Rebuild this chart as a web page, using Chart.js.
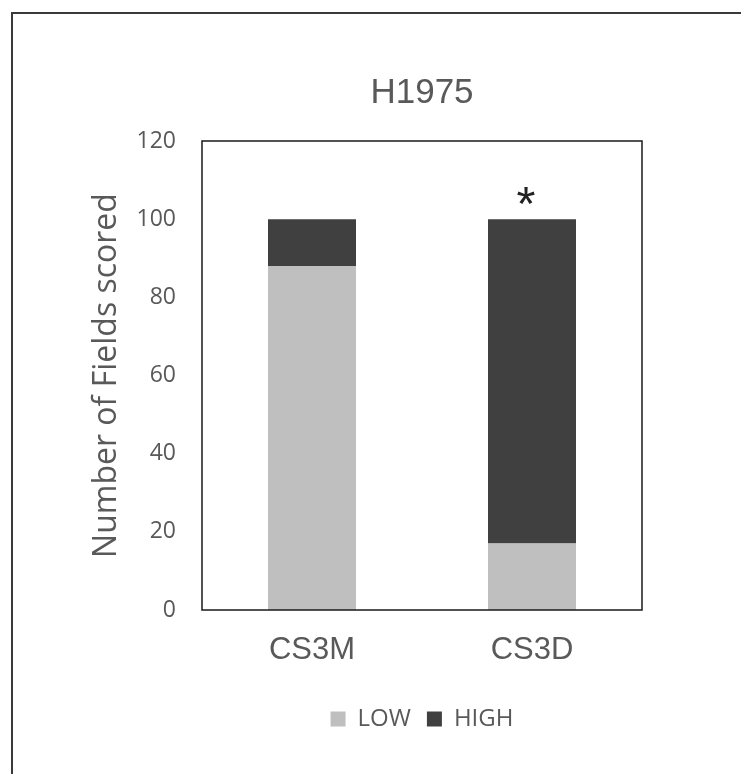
<!DOCTYPE html>
<html>
<head>
<meta charset="utf-8">
<script src="https://cdn.jsdelivr.net/npm/chart.js@4/dist/chart.umd.min.js"></script>
<style>
  html, body { margin: 0; padding: 0; background: #ffffff; }
  #wrap { position: relative; width: 741px; height: 774px; }
  #frame { position: absolute; left: 11px; top: 12px; width: 760px; height: 800px;
           border-top: 2px solid #3a3a3a; border-left: 2px solid #3a3a3a; box-sizing: border-box; pointer-events: none; }
  canvas { position: absolute; left: 0; top: 0; }
</style>
</head>
<body>
<div id="wrap">
  <canvas id="c" width="741" height="774"></canvas>
  <div id="frame"></div>
</div>
<script>
const categories = ['CS3M', 'CS3D'];
const lowValues = [88, 17];
const highValues = [12, 83];
const seriesNames = ['LOW', 'HIGH'];
const significance = ['', '*'];
const yTicks = [0, 20, 40, 60, 80, 100, 120];

const framePlugin = {
  id: 'frame',
  afterDatasetsDraw(chart) {
    const a = chart.chartArea, ctx = chart.ctx;
    ctx.save();
    ctx.strokeStyle = '#1a1a1a';
    ctx.lineWidth = 1.5;
    ctx.strokeRect(a.left, a.top, a.right - a.left, a.bottom - a.top);
    // significance marks
    const xs = chart.scales.x, ys = chart.scales.y;
    ctx.fillStyle = '#222222';
    ctx.textAlign = 'center';
    ctx.textBaseline = 'alphabetic';
    significance.forEach((s, i) => {
      if (!s) return;
      ctx.font = '100px "Liberation Sans", Arial, sans-serif';
      const m100 = ctx.measureText(s);
      const inkW = m100.actualBoundingBoxLeft + m100.actualBoundingBoxRight;
      const size = 100 * 18 / inkW;
      ctx.font = size + 'px "Liberation Sans", Arial, sans-serif';
      const m = ctx.measureText(s);
      const total = lowValues[i] + highValues[i];
      const cy = ys.getPixelForValue(total) - 24;
      const base = cy + (m.actualBoundingBoxAscent - m.actualBoundingBoxDescent) / 2;
      ctx.fillText(s, xs.getPixelForValue(i) - 6, base);
    });
    ctx.restore();
  }
};

new Chart(document.getElementById('c'), {
  type: 'bar',
  data: {
    labels: categories,
    datasets: [
      { label: seriesNames[0], data: lowValues, backgroundColor: '#bfbfbf', borderWidth: 0 },
      { label: seriesNames[1], data: highValues, backgroundColor: '#404040', borderWidth: 0 }
    ]
  },
  options: {
    responsive: false,
    animation: false,
    layout: { padding: { top: 72, right: 99, bottom: 33, left: 88 } },
    datasets: { bar: { categoryPercentage: 1.0, barPercentage: 0.4 } },
    plugins: {
      title: {
        display: true,
        fullSize: false,
        text: 'H1975',
        color: '#595959',
        font: { family: '"Liberation Sans", Arial, sans-serif', size: 35, weight: 'normal' },
        padding: { top: 0, bottom: 27 }
      },
      legend: {
        position: 'bottom',
        fullSize: false,
        labels: {
          color: '#595959',
          font: { family: '"Open Sans", sans-serif', size: 24 },
          boxWidth: 15, boxHeight: 15, padding: 16
        }
      },
      tooltip: { enabled: false }
    },
    scales: {
      x: {
        stacked: true,
        grid: { display: false },
        border: { display: false },
        ticks: { color: '#595959', padding: 14, font: { family: '"Liberation Sans", Arial, sans-serif', size: 31 } },
        afterFit(scale) { scale.height = 81; }
      },
      y: {
        stacked: true,
        min: 0, max: 120,
        afterBuildTicks(scale) { scale.ticks = yTicks.map(v => ({ value: v })); },
        grid: { display: false },
        border: { display: false },
        ticks: { color: '#595959', padding: 18, font: { family: '"Open Sans", sans-serif', size: 23 } },
        title: {
          display: true,
          text: 'Number of Fields scored',
          color: '#595959',
          font: { family: '"Open Sans", sans-serif', size: 32 },
          padding: 0
        },
        afterFit(scale) { scale.width = 202 - 88; }
      }
    }
  },
  plugins: [framePlugin]
});
</script>
</body>
</html>
